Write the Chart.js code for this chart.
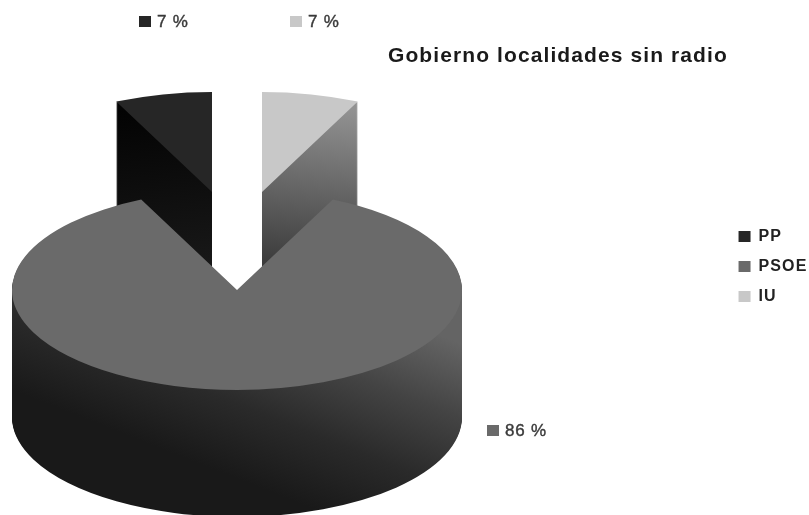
<!DOCTYPE html>
<html lang="es">
<head>
    <meta charset="UTF-8">
    <title>Gobierno localidades sin radio</title>
    <script src="https://cdn.jsdelivr.net/npm/chart.js"></script>
    <style>
        html, body { margin: 0; padding: 0; background: #fff; overflow: hidden; }
        #wrap { width: 809px; height: 515px; }
        canvas { filter: blur(0.4px); }
    </style>
</head>
<body>
    <div id="wrap"><canvas id="grafico"></canvas></div>

    <script>
        const partidos = ['PP', 'PSOE', 'IU'];
        const porcentajes = [7, 86, 7];
        const colores = ['#262626', '#6a6a6a', '#c8c8c8'];

        // pseudo 3D: la tarta se aplasta y se apila capa a capa
        const centroX = 237, centroY = 290, aplastado = 0.444, fondo = 127;
        const desplazados = [[-25, -98], [0, 0], [25, -98]];
        const gradientes = [
            { from: [115, 110], to: [212, 265], stops: ['#030303', '#181818'] },
            { from: [215, 470], to: [465, 345], stops: ['#191919', '#2a2a2a', '#444444', '#646464'] },
            { from: [358, 110], to: [262, 265], stops: ['#929292', '#3a3a3a'] }
        ];
        const etiquetas = [[139, 16], [487, 425], [290, 16]];

        function gradiente(ctx, g) {
            // los extremos van en pixeles del canvas, asi todas las capas comparten el mismo degradado
            const inv = ctx.getTransform().inverse();
            const a = inv.transformPoint({ x: g.from[0], y: g.from[1] });
            const b = inv.transformPoint({ x: g.to[0], y: g.to[1] });
            const grad = ctx.createLinearGradient(a.x, a.y, b.x, b.y);
            g.stops.forEach((c, i) => grad.addColorStop(i / (g.stops.length - 1), c));
            return grad;
        }

        function pintarArco(ctx, arc, i, capa, color) {
            ctx.save();
            ctx.translate(centroX + desplazados[i][0], centroY + desplazados[i][1] + capa);
            ctx.scale(-1, aplastado); // espejo para que PP quede a la izquierda
            ctx.translate(-arc.x, -arc.y);
            const copia = Object.create(arc);
            copia.options = Object.assign({}, arc.options, {
                backgroundColor: color === null ? gradiente(ctx, gradientes[i]) : color
            });
            copia.draw(ctx);
            ctx.restore();
        }

        const tarta3d = {
            id: 'tarta3d',
            beforeDraw(chart) {
                chart.ctx.letterSpacing = '1.1px';
            },
            beforeDatasetsDraw(chart) {
                const ctx = chart.ctx;
                ctx.letterSpacing = '0px';
                const arcos = chart.getDatasetMeta(0).data;
                // primero los dos trozos de atras, luego el grande
                [0, 2, 1].forEach(i => {
                    for (let capa = fondo; capa > 0; capa--) {
                        pintarArco(ctx, arcos[i], i, capa, null);
                    }
                    pintarArco(ctx, arcos[i], i, 0, colores[i]);
                });
                return false;
            },
            afterDraw(chart) {
                const ctx = chart.ctx;
                ctx.save();
                ctx.font = '17px "Liberation Sans"';
                ctx.textBaseline = 'middle';
                ctx.letterSpacing = '0.8px';
                ctx.lineWidth = 0.4;
                etiquetas.forEach((p, i) => {
                    ctx.fillStyle = colores[i];
                    ctx.fillRect(p[0], p[1], 12, 11);
                    ctx.fillStyle = ctx.strokeStyle = '#3a3a3a';
                    ctx.fillText(porcentajes[i] + ' %', p[0] + 18, p[1] + 6);
                    ctx.strokeText(porcentajes[i] + ' %', p[0] + 18, p[1] + 6);
                });
                ctx.restore();
            }
        };

        new Chart(document.getElementById('grafico'), {
            type: 'pie',
            data: {
                labels: partidos,
                datasets: [{
                    data: porcentajes,
                    backgroundColor: colores,
                    borderWidth: 0
                }]
            },
            options: {
                responsive: true,
                maintainAspectRatio: false,
                animation: false,
                radius: 225,
                layout: { padding: { left: 388, top: 18, right: -4 } },
                plugins: {
                    tooltip: { enabled: false },
                    title: {
                        display: true,
                        text: 'Gobierno localidades sin radio',
                        align: 'start',
                        color: '#1a1a1a',
                        font: { family: '"Liberation Sans"', size: 21, weight: 'bold' },
                        padding: { top: 26, bottom: 5 }
                    },
                    legend: {
                        position: 'right',
                        labels: {
                            color: '#222',
                            font: { family: '"Liberation Sans"', size: 16, weight: 'bold' },
                            boxWidth: 12,
                            boxHeight: 11,
                            padding: 14
                        }
                    }
                }
            },
            plugins: [tarta3d]
        });
    </script>
</body>
</html>
